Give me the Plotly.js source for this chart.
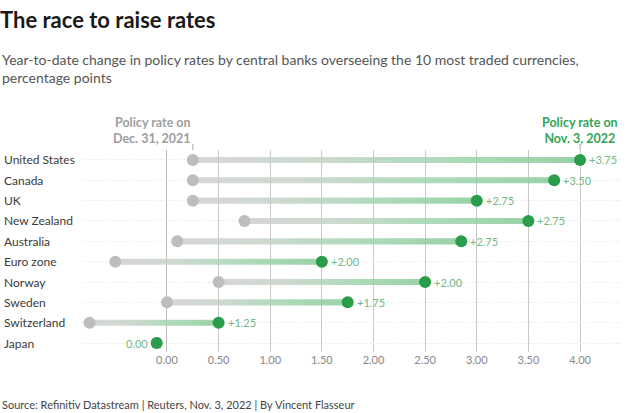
<!DOCTYPE html>
<html>
<head>
<meta charset="utf-8">
<script src="https://cdn.plot.ly/plotly-3.0.1.min.js"></script>
<style>html,body{margin:0;padding:0;background:#fff;}#chart{width:630px;height:413px;}</style>
</head>
<body>
<div id="chart"></div>
<script>
const countries = ["United States","Canada","UK","New Zealand","Australia","Euro zone","Norway","Sweden","Switzerland","Japan"];
const rate2021 = [0.25, 0.25, 0.25, 0.75, 0.10, -0.50, 0.50, 0.00, -0.75, -0.10];
const rate2022 = [4.00, 3.75, 3.00, 3.50, 2.85, 1.50, 2.50, 1.75, 0.50, -0.10];
const changeLabels = ["+3.75","+3.50","+2.75","+2.75","+2.75","+2.00","+2.00","+1.75","+1.25","0.00"];
const xTicks = [0, 0.5, 1, 1.5, 2, 2.5, 3, 3.5, 4];

const FONT = "Lato, 'Source Sans Pro', 'Noto Sans', sans-serif";
const idx = countries.map((_, i) => i);
const traces = [];
const h = 0.15;
countries.forEach((c, i) => {
  const a = rate2021[i], b = rate2022[i];
  if (b === a) return;
  traces.push({
    type: 'scatter', mode: 'none', hoverinfo: 'skip', showlegend: false,
    x: [a, b, b, a, a], y: [i - h, i - h, i + h, i + h, i - h],
    fill: 'toself',
    fillgradient: {
      type: 'horizontal',
      colorscale: [[0, 'rgba(205,205,205,0.8)'], [0.3, 'rgba(195,208,197,0.8)'], [0.65, 'rgba(155,210,170,0.8)'], [1, 'rgba(135,202,152,0.85)']]
    }
  });
});
traces.push({
  type: 'scatter', mode: 'markers', x: rate2021, y: idx, showlegend: false,
  marker: {size: 12, color: '#bdbdbd'}, hoverinfo: 'skip'
});
traces.push({
  type: 'scatter', mode: 'markers', x: rate2022, y: idx, showlegend: false,
  marker: {size: 12, color: '#2a9d4a'}, hoverinfo: 'skip'
});

const plotL = 82, plotW = 538, plotT = 150, plotH = 202;
const annotations = [];
countries.forEach((c, i) => {
  annotations.push({
    text: c, xref: 'paper', yref: 'y', x: -80 / plotW, y: i, xanchor: 'left', yanchor: 'middle',
    showarrow: false, font: {family: FONT, size: 12, color: '#3a3a3a'}
  });
  const isZero = rate2022[i] === rate2021[i];
  annotations.push({
    text: changeLabels[i], xref: 'x', yref: 'y', x: rate2022[i], y: i,
    xanchor: isZero ? 'right' : 'left', yanchor: 'middle', xshift: isZero ? -7 : 7,
    showarrow: false, font: {family: FONT, size: 11, color: '#74b886'}
  });
});
annotations.push({
  text: '<b>Policy rate on<br>Dec. 31, 2021</b>', xref: 'x', yref: 'paper', x: rate2021[0], y: 1,
  xanchor: 'right', yanchor: 'bottom', yshift: 2, align: 'right', showarrow: false,
  font: {family: FONT, size: 12.5, color: '#9e9e9e'}
});
annotations.push({
  text: '<b>Policy rate on<br>Nov. 3, 2022</b>', xref: 'x', yref: 'paper', x: rate2022[0], y: 1,
  xanchor: 'center', yanchor: 'bottom', yshift: 2, align: 'center', showarrow: false,
  font: {family: FONT, size: 12.5, color: '#33a456'}
});
annotations.push({
  text: 'Year-to-date change in policy rates by central banks overseeing the 10 most traded currencies,<br>percentage points',
  xref: 'paper', yref: 'paper', x: -plotL / plotW, y: (352 - 68.5) / plotH, xanchor: 'left', yanchor: 'middle',
  align: 'left', showarrow: false, font: {family: FONT, size: 14, color: '#555'}
});
annotations.push({
  text: 'Source: Refinitiv Datastream | Reuters, Nov. 3, 2022 | By Vincent Flasseur',
  xref: 'paper', yref: 'paper', x: -plotL / plotW, y: (352 - 404) / plotH, xanchor: 'left', yanchor: 'middle',
  align: 'left', showarrow: false, font: {family: FONT, size: 11, color: '#444'}
});

const shapes = [
  {type: 'line', xref: 'x', yref: 'paper', x0: rate2021[0], x1: rate2021[0], y0: 1, y1: 1 + 6 / plotH, line: {color: '#aaa', width: 1}},
  {type: 'line', xref: 'x', yref: 'paper', x0: rate2022[0], x1: rate2022[0], y0: 1, y1: 1 + 6 / plotH, line: {color: '#aaa', width: 1}}
];

const layout = {
  width: 630, height: 413,
  margin: {l: plotL, r: 10, t: plotT, b: 61},
  paper_bgcolor: '#fff', plot_bgcolor: '#fff',
  title: {text: '<b>The race to raise rates</b>', x: 0, xref: 'container', xanchor: 'left', y: 1 - 20 / 413, yref: 'container', yanchor: 'middle',
    font: {family: FONT, size: 22, color: '#1a1a1a'}},
  xaxis: {range: [-0.823, 4.387], tickvals: xTicks, tickformat: '.2f', showgrid: true, gridcolor: '#c8c8c8', gridwidth: 1,
    zeroline: true, zerolinecolor: '#bbb', zerolinewidth: 1, showline: false, ticks: '',
    tickfont: {family: FONT, size: 11, color: '#888'}, fixedrange: true},
  yaxis: {range: [9.44, -0.49], tickvals: idx, showticklabels: false, showgrid: true, gridcolor: '#e2e2e2', griddash: '1px,2px', gridwidth: 1,
    zeroline: false, showline: false, ticks: '', fixedrange: true},
  annotations: annotations,
  shapes: shapes,
  showlegend: false
};
Plotly.newPlot('chart', traces, layout, {displayModeBar: false, staticPlot: true});
</script>
</body>
</html>
